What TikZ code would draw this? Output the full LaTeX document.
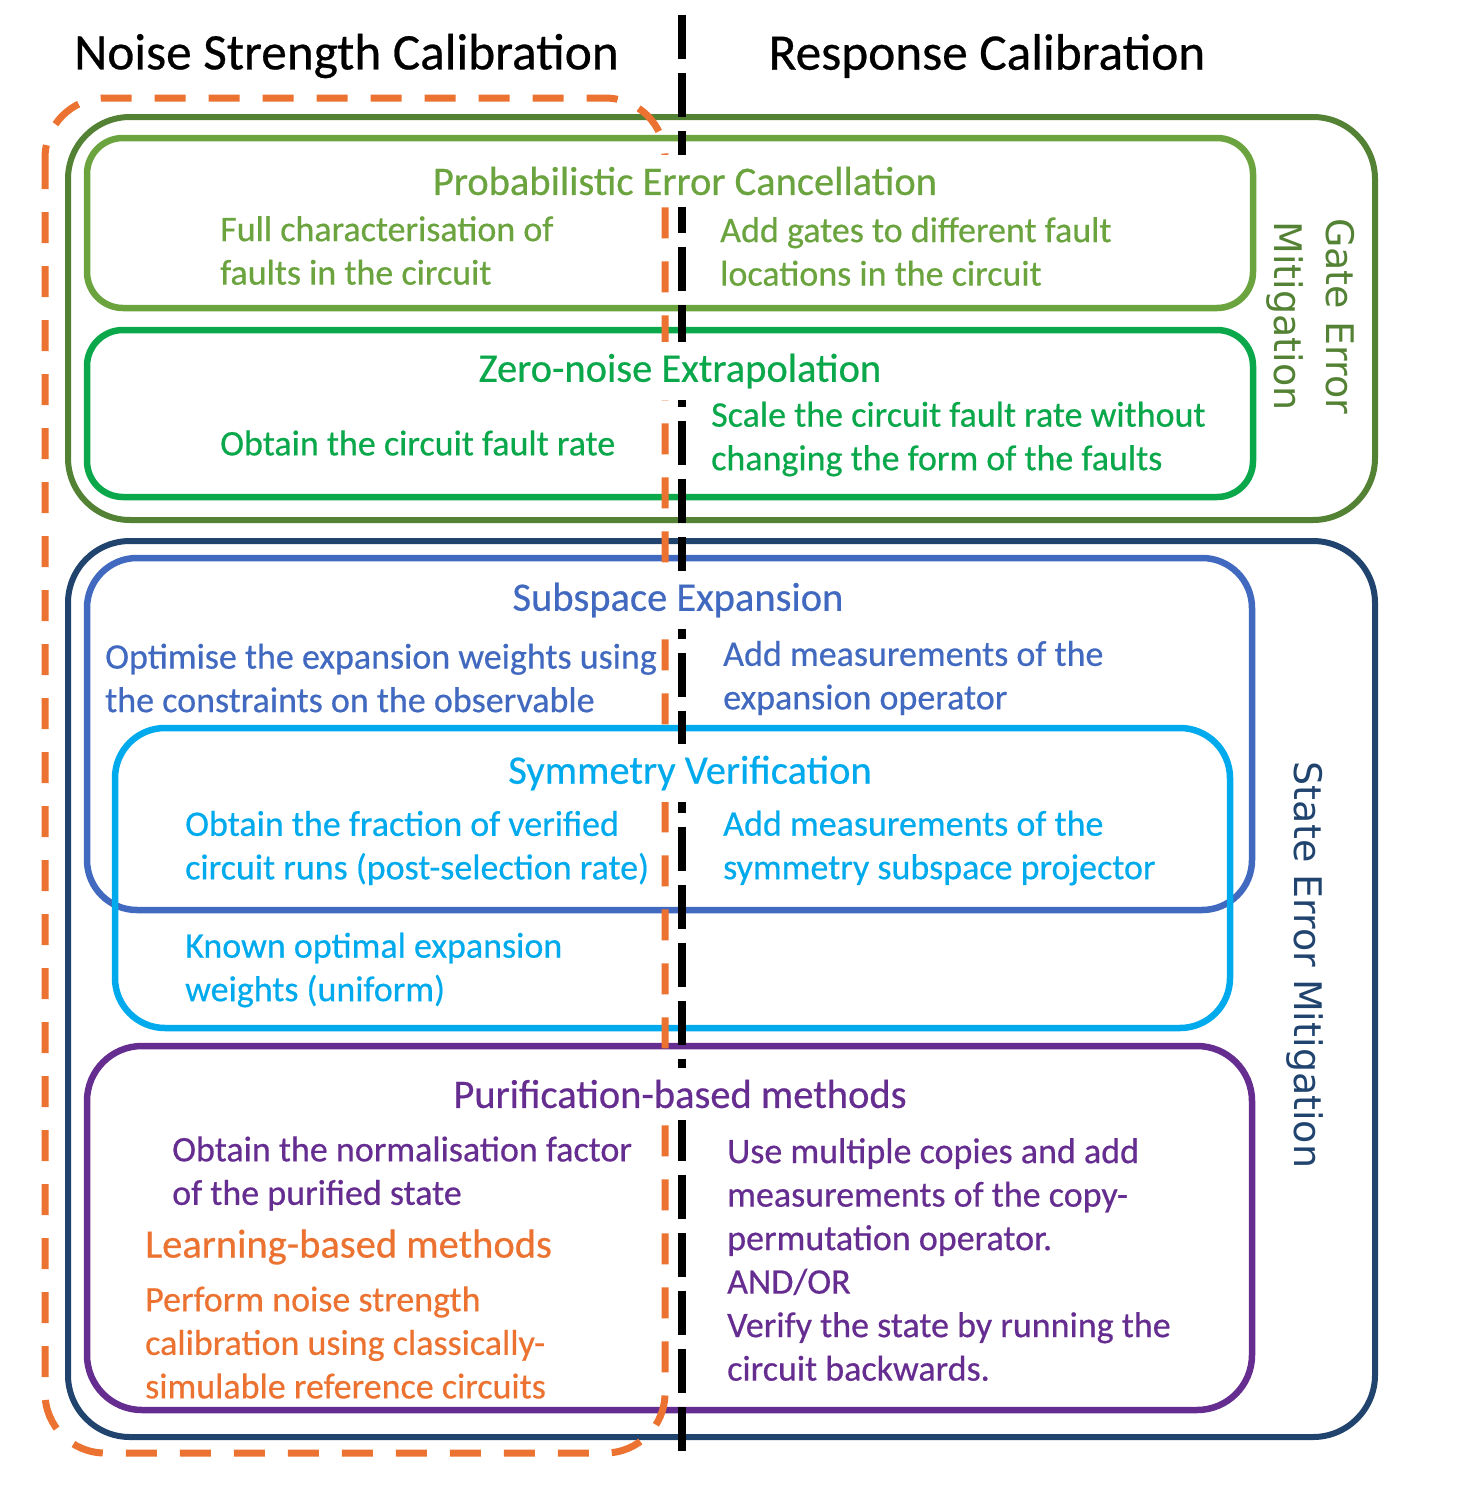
\documentclass[tikz,border=0pt]{standalone}
\usepackage{fontspec}
\setmainfont{Carlito}[UprightFeatures={FakeBold=0.5}]
\newfontfamily\rotfont{DejaVu Sans}
\definecolor{gateC}{HTML}{548235}
\definecolor{pecC}{HTML}{6BA43F}
\definecolor{zneC}{HTML}{0AA84B}
\definecolor{stateC}{HTML}{21446F}
\definecolor{seC}{HTML}{4169BF}
\definecolor{svC}{HTML}{00AAEC}
\definecolor{purC}{HTML}{662D91}
\definecolor{orC}{HTML}{EB7230}
\begin{document}
\begin{tikzpicture}[x=1pt,y=-1pt,
  outerbox/.style={line width=6pt},
  innerbox/.style={line width=6.5pt},
  headtxt/.style={font=\fontsize{51.3}{60}\selectfont, inner sep=0pt},
  boxtitle/.style={font=\fontsize{40.5}{48}\selectfont, fill=white, inner xsep=6pt, inner ysep=12pt},
  bodytxt/.style={font=\fontsize{36}{43.5}\selectfont, align=left, anchor=west, inner sep=0pt},
  rottxt/.style={font=\rotfont\fontsize{38}{52}\selectfont, align=center, rotate=-90, inner sep=0pt},
  orline/.style={draw=orC, line width=7pt, dash pattern=on 31pt off 23pt},
  blackline/.style={draw=black, line width=8pt, dash pattern=on 44pt off 14pt}
]
\useasboundingbox (0,0) rectangle (1470,1504);

% headings
\node[headtxt] (nsc) at (346.5,56) {Noise Strength Calibration};
\node[headtxt] (rc) at (987,56) {Response Calibration};

% group boxes
\draw[outerbox, draw=gateC, rounded corners=62pt] (68,117) rectangle (1375,520);
\draw[outerbox, draw=stateC, rounded corners=62pt] (68,541) rectangle (1375,1437);

% method boxes
\draw[innerbox, draw=pecC, rounded corners=36pt] (87,138) rectangle (1253,308);
\draw[innerbox, draw=zneC, rounded corners=36pt] (87,330) rectangle (1253,497);
\draw[innerbox, draw=seC, rounded corners=50pt] (87,558) rectangle (1252,910);
\draw[innerbox, draw=svC, rounded corners=50pt] (115,728) rectangle (1230,1028);
\draw[innerbox, draw=purC, rounded corners=55pt] (87,1046) rectangle (1252,1410);

% dashed separators
\draw[orline, rounded corners=60pt] (45,98) rectangle (665,1453);
\coordinate (btop) at (682,15);
\coordinate (bbot) at (682,1465);
\draw[blackline] (btop) -- (bbot);

% rotated group labels
\node[rottxt, text=gateC] (gem) at (1311,316) {Gate Error\\Mitigation};
\node[rottxt, text=stateC] (sem) at (1305,965) {State Error Mitigation};

% PEC
\node[boxtitle, text=pecC] (pect) at (685,181) {Probabilistic Error Cancellation};
\node[bodytxt, text=pecC] (pecl) at (220,250.5) {Full characterisation of\\faults in the circuit};
\node[bodytxt, text=pecC] (pecr) at (720,251.5) {Add gates to different fault\\locations in the circuit};

% ZNE
\node[boxtitle, text=zneC] (znet) at (680,371) {Zero-noise Extrapolation};
\node[bodytxt, text=zneC] (znel) at (220,443) {Obtain the circuit fault rate};
\node[bodytxt, text=zneC] (zner) at (711,439) {Scale the circuit fault rate without\\changing the form of the faults};

% Subspace expansion
\node[boxtitle, text=seC] (set) at (678,600) {Subspace Expansion};
\node[bodytxt, text=seC] (sel) at (105,678) {Optimise the expansion weights using\\the constraints on the observable};
\node[bodytxt, text=seC] (ser) at (723,678) {Add measurements of the\\expansion operator};

% Symmetry verification
\node[boxtitle, text=svC] (svt) at (690,773) {Symmetry Verification};
\node[bodytxt, text=svC] (svl) at (185,848) {Obtain the fraction of verified\\circuit runs (post-selection rate)};
\node[bodytxt, text=svC] (svr) at (723,848) {Add measurements of the\\symmetry subspace projector};
\node[bodytxt, text=svC] (svk) at (185,970) {Known optimal expansion\\weights (uniform)};

% Purification
\node[boxtitle, text=purC] (purt) at (680,1094) {Purification-based methods};
\node[bodytxt, text=purC] (purl) at (172,1173.5) {Obtain the normalisation factor\\of the purified state};
\node[bodytxt, text=purC] (purr) at (727,1259.5) {Use multiple copies and add\\measurements of the copy-\\permutation operator.\\AND/OR\\Verify the state by running the\\circuit backwards.};

% Learning-based
\node[bodytxt, text=orC, font=\fontsize{40.5}{48}\selectfont] (lbt) at (145,1247) {Learning-based methods};
\node[bodytxt, text=orC] (lbl) at (145,1342.5) {Perform noise strength\\calibration using classically-\\simulable reference circuits};
\end{tikzpicture}
\end{document}
